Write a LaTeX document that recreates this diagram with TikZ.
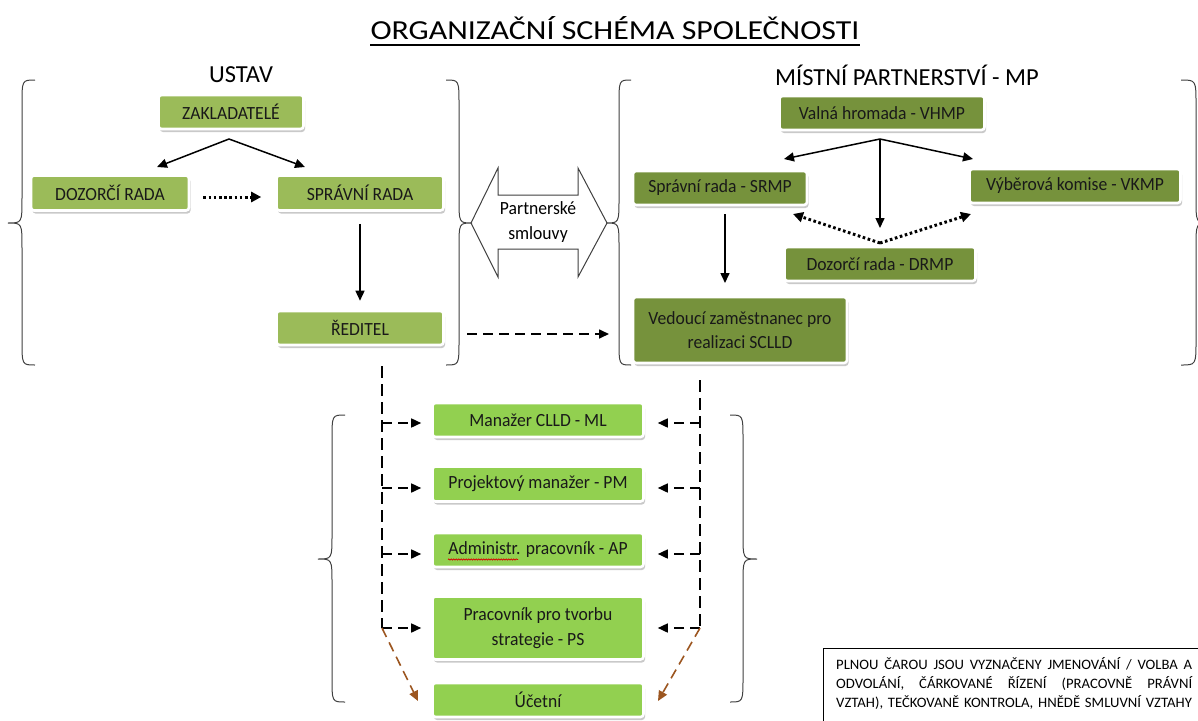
\documentclass[tikz,border=0pt]{standalone}
\usepackage{fontspec}
\setmainfont{Carlito}
\newfontfamily\boxfont[FakeStretch=0.946]{Carlito}
\newfontfamily\titlefont[FakeStretch=1.16]{Carlito}
\newfontfamily\legendfont[FakeStretch=1.02]{Carlito}
\usetikzlibrary{arrows.meta,shadows,decorations.pathmorphing}
\definecolor{ustavc}{HTML}{9BBB59}
\definecolor{mpc}{HTML}{76923C}
\definecolor{staffc}{HTML}{92D050}
\definecolor{brownc}{HTML}{9C5620}
\definecolor{bracec}{HTML}{404040}
\newcommand\mybrace[6]{%
  \draw[bracestyle] (#1,#4) .. controls (#2,#4) and (#2,#4) .. (#2,#4+25) -- (#2,#5-25)
    .. controls (#2,#5) and (#2,#5) .. (#3,#5) .. controls (#2,#5) and (#2,#5) .. (#2,#5+25)
    -- (#2,#6-25) .. controls (#2,#6) and (#2,#6) .. (#1,#6);}
\newcommand\legendline[1]{\makebox[356pt][s]{\spaceskip=0pt\xspaceskip=0pt #1}}
\tikzset{
  gbox/.style={rounded corners=3pt, draw=white, line width=2.6pt, inner sep=0pt, align=center,
    font=\boxfont\fontsize{18.6}{24.5}\selectfont, text=black!90,
    drop shadow={shadow xshift=1.5pt, shadow yshift=-3pt, fill=black!35, opacity=.6}},
  ustav/.style={gbox, fill=ustavc},
  mpbox/.style={gbox, fill=mpc},
  staff/.style={gbox, fill=staffc},
  arr/.style={line width=1.5pt, -{Triangle[length=10pt,width=9pt]}},
  dotarr/.style={line width=3pt, dash pattern=on 2.6pt off 2.6pt, -{Triangle[length=10pt,width=10pt]}},
  dasharr/.style={line width=1.6pt, dash pattern=on 10pt off 6pt, -{Triangle[length=10pt,width=9pt]}},
  dashline/.style={line width=1.6pt, dash pattern=on 12pt off 6pt},
  brownarr/.style={draw=brownc, line width=1.6pt, dash pattern=on 10pt off 6pt, -{Triangle[length=10pt,width=9pt]}},
  bracestyle/.style={draw=bracec, line width=1pt},
  heading/.style={font=\fontsize{24.5}{30}\selectfont, inner sep=0pt},
}
\begin{document}
\begin{tikzpicture}[x=1pt,y=-1pt]
\useasboundingbox (0,0) rectangle (1198,720);
\clip (0,0) rectangle (1198,720);
\fill[white] (0,0) rectangle (1198,720);

% title
\node[font=\titlefont\fontsize{27.5}{33}\selectfont, inner sep=0pt, anchor=base] (title) at (615,39.5) {ORGANIZAČNÍ SCHÉMA SPOLEČNOSTI};
\draw[line width=1.7pt] ([yshift=-5.5pt]title.base west) -- ([yshift=-5.5pt]title.base east);

% headings
\node[heading] (hustav) at (241,75) {USTAV};
\node[heading] (hmp) at (907,75) {MÍSTNÍ PARTNERSTVÍ - MP};

% braces
\mybrace{35}{22}{8}{80}{223}{365}
\mybrace{446}{459}{472}{80}{223}{365}
\mybrace{631}{619}{606}{80}{223}{365}
\mybrace{1181}{1196}{1210}{80}{223}{365}
\mybrace{345}{332}{318}{415}{559}{702}
\mybrace{730}{743}{757}{415}{559}{702}

% USTAV nodes
\node[ustav, minimum width=145pt, minimum height=34pt] (zak) at (231,112) {ZAKLADATELÉ};
\node[ustav, minimum width=158pt, minimum height=35pt] (dozor) at (110,193) {DOZORČÍ RADA};
\node[ustav, minimum width=167pt, minimum height=35pt] (sprav) at (360,193) {SPRÁVNÍ RADA};
\node[ustav, minimum width=167pt, minimum height=34pt] (red) at (360,328) {ŘEDITEL};

% MP nodes
\node[mpbox, minimum width=205pt, minimum height=34pt] (vh) at (882,113) {Valná hromada - VHMP};
\node[mpbox, minimum width=174pt, minimum height=34pt] (srmp) at (720,188) {Správní rada - SRMP};
\node[mpbox, minimum width=211pt, minimum height=34pt] (vkmp) at (1075,186) {Výběrová komise - VKMP};
\node[mpbox, minimum width=191pt, minimum height=34pt] (drmp) at (880,264) {Dozorčí rada - DRMP};
\node[mpbox, minimum width=214pt, minimum height=66pt] (ved) at (740,330) {Vedoucí zaměstnanec pro\\realizaci SCLLD};

% staff nodes
\node[staff, minimum width=211pt, minimum height=34pt] (ml) at (538,420) {Manažer CLLD - ML};
\node[staff, minimum width=211pt, minimum height=35pt] (pm) at (538,484) {Projektový manažer - PM};
\node[staff, minimum width=211pt, minimum height=34pt] (ap) at (538,550) {Administr. pracovník - AP};
\node[staff, minimum width=211pt, minimum height=63pt] (ps) at (538,628) {Pracovník pro tvorbu\\strategie - PS};
\node[staff, minimum width=211pt, minimum height=34pt] (uc) at (538,700) {Účetní};
% spell-check squiggle under "Administr."
\draw[red!85!black, line width=0.7pt, decorate, decoration={snake, amplitude=0.7pt, segment length=2.5pt}] (448,559.5) -- (518,559.5);

% partnership double arrow
\draw[draw=bracec, line width=1pt] (471,223) -- (498,168) -- (498,195) -- (578,195) -- (578,168) -- (607,223)
  -- (578,277) -- (578,249) -- (498,249) -- (498,277) -- cycle;
\node[font=\boxfont\fontsize{18.6}{25}\selectfont, align=center, inner sep=0pt] (smlouvy) at (538,222) {Partnerské\\smlouvy};

% USTAV connectors
\coordinate (zakA) at (229,139);
\coordinate (dozT) at (157,167);
\coordinate (spT) at (305,167);
\draw[arr] (zakA) -- (dozT);
\draw[arr] (zakA) -- (spT);
\draw[dotarr, shorten <=13pt, shorten >=14pt] ([yshift=-4pt]dozor.east) -- ([yshift=-4pt]sprav.west);
\draw[arr, shorten <=12pt, shorten >=9pt] (sprav.south) -- (red.north);
\coordinate (dA) at (467,334);
\coordinate (dB) at (609,334);
\draw[dasharr] (dA) -- (dB);

% MP connectors
\coordinate (vhA) at (880,139);
\coordinate (vhL) at (784,159);
\coordinate (vhR) at (973,159);
\coordinate (vhD) at (880,228);
\draw[arr] (vhA) -- (vhL);
\draw[arr] (vhA) -- (vhR);
\draw[arr] (vhA) -- (vhD);
\coordinate (drA) at (880,243);
\coordinate (drL) at (793,214);
\coordinate (drR) at (971,214);
\draw[dotarr] (drA) -- (drL);
\draw[dotarr] (drA) -- (drR);
\coordinate (srA) at (725,214);
\coordinate (srB) at (725,283);
\draw[arr] (srA) -- (srB);

% staff connectors
\coordinate (L0) at (382,366);
\coordinate (L4) at (382,628);
\coordinate (R0) at (700,380);
\coordinate (R4) at (700,628);
\draw[dashline] (L0) -- (L4);
\draw[dashline] (R0) -- (R4);
\foreach \n/\d in {ml/3,pm/4,ap/4,ps/0}{
  \coordinate (tw) at ([yshift=-\d pt]\n.west);
  \coordinate (te) at ([yshift=-\d pt]\n.east);
  \draw[dasharr, shorten >=10pt] (L0 |- tw) -- (tw);
  \draw[dasharr, shorten >=13pt] (R0 |- te) -- (te);
}
\coordinate (bL) at (418,701);
\coordinate (bR) at (658,701);
\draw[brownarr] (L4) -- (bL);
\draw[brownarr] (R4) -- (bR);

% legend
\draw[line width=1pt] (823,730) -- (823,648.5) -- (1210,648.5);
\node[anchor=base west, inner sep=0pt, text width=356pt, align=left,
  font=\legendfont\fontsize{14.4}{19}\selectfont] (legend) at (836,669)
  {\legendline{PLNOU ČAROU JSOU VYZNAČENY JMENOVÁNÍ / VOLBA A}\\
   \legendline{ODVOLÁNÍ, ČÁRKOVANÉ ŘÍZENÍ (PRACOVNĚ PRÁVNÍ}\\
   \mbox{VZTAH), TEČKOVANĚ KONTROLA, HNĚDĚ SMLUVNÍ VZTAHY}};
\end{tikzpicture}
\end{document}
